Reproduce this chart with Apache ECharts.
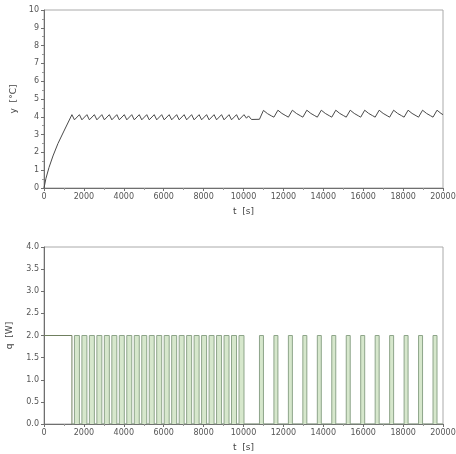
<!DOCTYPE html>
<html>
<head>
<meta charset="utf-8">
<script src="https://cdn.jsdelivr.net/npm/echarts@6/dist/echarts.min.js"></script>
<style>
  html, body { margin: 0; padding: 0; background: #fff; }
  #main { width: 456px; height: 454px; }
</style>
</head>
<body>
<div id="main"></div>
<script>
// temperature y [°C] as [t, y]
var rampTemp = [[0, 0], [100, 0.55], [250, 1.15], [450, 1.8], [700, 2.5], [1000, 3.2], [1400, 4.12]]

var regime1Temp = [
  [1525, 3.83], [1775, 4.12], [1900, 3.83], [2150, 4.12], [2275, 3.83], [2525, 4.12],
  [2650, 3.83], [2900, 4.12], [3025, 3.83], [3275, 4.12], [3400, 3.83], [3650, 4.12],
  [3775, 3.83], [4025, 4.12], [4150, 3.83], [4400, 4.12], [4525, 3.83], [4775, 4.12],
  [4900, 3.83], [5150, 4.12], [5275, 3.83], [5525, 4.12], [5650, 3.83], [5900, 4.12],
  [6025, 3.83], [6275, 4.12], [6400, 3.83], [6650, 4.12], [6775, 3.83], [7025, 4.12],
  [7150, 3.83], [7400, 4.12], [7525, 3.83], [7775, 4.12], [7900, 3.83], [8150, 4.12],
  [8275, 3.83], [8525, 4.12], [8650, 3.83], [8900, 4.12], [9025, 3.83], [9275, 4.12],
  [9400, 3.83], [9650, 4.12], [9775, 3.83], [10025, 4.12]
]

var regime2Temp = [
  [10150, 3.92], [10250, 4.05], [10400, 3.85], [10800, 3.86],
  [11000, 4.36], [11200, 4.18], [11400, 4.05], [11525, 3.98],
  [11725, 4.37], [11925, 4.19], [12125, 4.06], [12250, 3.98],
  [12450, 4.37], [12650, 4.19], [12850, 4.06], [12975, 3.98],
  [13175, 4.37], [13375, 4.19], [13575, 4.06], [13700, 3.98],
  [13900, 4.37], [14100, 4.19], [14300, 4.06], [14425, 3.98],
  [14625, 4.37], [14825, 4.19], [15025, 4.06], [15150, 3.98],
  [15350, 4.37], [15550, 4.19], [15750, 4.06], [15875, 3.98],
  [16075, 4.37], [16275, 4.19], [16475, 4.06], [16600, 3.98],
  [16800, 4.37], [17000, 4.19], [17200, 4.06], [17325, 3.98],
  [17525, 4.37], [17725, 4.19], [17925, 4.06], [18050, 3.98],
  [18250, 4.37], [18450, 4.19], [18650, 4.06], [18775, 3.98],
  [18975, 4.37], [19175, 4.19], [19375, 4.06], [19500, 3.98],
  [19700, 4.37], [19900, 4.19], [20000, 4.12]
]

// heater power [W]: full power until the set point is reached
var warmupHeat = [[0, 2], [1400, 2], [1400, 0]]

// heater power switching points [t, value held until next point]
var regime1Heat = [
  [1400, 0], [1525, 2], [1775, 0], [1900, 2], [2150, 0], [2275, 2], [2525, 0],
  [2650, 2], [2900, 0], [3025, 2], [3275, 0], [3400, 2], [3650, 0], [3775, 2], [4025, 0],
  [4150, 2], [4400, 0], [4525, 2], [4775, 0], [4900, 2], [5150, 0], [5275, 2], [5525, 0],
  [5650, 2], [5900, 0], [6025, 2], [6275, 0], [6400, 2], [6650, 0], [6775, 2], [7025, 0],
  [7150, 2], [7400, 0], [7525, 2], [7775, 0], [7900, 2], [8150, 0], [8275, 2], [8525, 0],
  [8650, 2], [8900, 0], [9025, 2], [9275, 0], [9400, 2], [9650, 0], [9775, 2], [10025, 0]
]

var regime2Heat = [
  [10800, 2], [11000, 0], [11525, 2], [11725, 0], [12250, 2], [12450, 0],
  [12975, 2], [13175, 0], [13700, 2], [13900, 0], [14425, 2], [14625, 0],
  [15150, 2], [15350, 0], [15875, 2], [16075, 0], [16600, 2], [16800, 0],
  [17325, 2], [17525, 0], [18050, 2], [18250, 0], [18775, 2], [18975, 0],
  [19500, 2], [19700, 0], [20000, 0]
]

var tempData = rampTemp.concat(regime1Temp, regime2Temp)
var heatData = regime1Heat.concat(regime2Heat)

var axisGray = '#6f6f6f'
var labelStyle = { fontSize: 8, color: '#555', fontFamily: 'DejaVu Sans' }
var nameStyle = { fontSize: 9, color: '#444', fontFamily: 'DejaVu Sans' }

function xAxisCfg (gridIndex) {
  return {
    type: 'value',
    gridIndex: gridIndex,
    min: 0,
    max: 20000,
    interval: 2000,
    name: 't  [s]',
    nameLocation: 'middle',
    nameGap: 19,
    nameTextStyle: nameStyle,
    axisLine: { show: true, lineStyle: { color: axisGray, width: 1 } },
    axisTick: { show: true, length: 3, lineStyle: { color: axisGray } },
    minorTick: { show: true, splitNumber: 2, length: 2, lineStyle: { color: '#999' } },
    axisLabel: Object.assign({
      margin: 5,
      formatter: function (v) { return String(v) }
    }, labelStyle),
    splitLine: { show: false }
  }
}

var chart = echarts.init(document.getElementById('main'))
chart.setOption({
  animation: false,
  grid: [
    { left: 44, right: 13, top: 10, height: 178, show: true, borderColor: '#aaa', borderWidth: 1, outerBoundsMode: 'none' },
    { left: 44, right: 13, top: 247, height: 177, show: true, borderColor: '#aaa', borderWidth: 1, outerBoundsMode: 'none' }
  ],
  xAxis: [xAxisCfg(0), xAxisCfg(1)],
  yAxis: [
    {
      type: 'value',
      gridIndex: 0,
      min: 0,
      max: 10,
      interval: 1,
      name: 'y  [°C]',
      nameLocation: 'middle',
      nameRotate: 90,
      nameGap: 26,
      nameTextStyle: nameStyle,
      axisLine: { show: true, lineStyle: { color: axisGray } },
      axisTick: { show: true, length: 3, lineStyle: { color: axisGray } },
      minorTick: { show: true, splitNumber: 2, length: 2, lineStyle: { color: '#999' } },
      axisLabel: Object.assign({ margin: 5 }, labelStyle),
      splitLine: { show: false }
    },
    {
      type: 'value',
      gridIndex: 1,
      min: 0,
      max: 4,
      interval: 0.5,
      name: 'q  [W]',
      nameLocation: 'middle',
      nameRotate: 90,
      nameGap: 30,
      nameTextStyle: nameStyle,
      axisLine: { show: true, lineStyle: { color: axisGray } },
      axisTick: { show: true, length: 3, lineStyle: { color: axisGray } },
      axisLabel: Object.assign({
        margin: 5,
        formatter: function (v) { return v.toFixed(1) }
      }, labelStyle),
      splitLine: { show: false }
    }
  ],
  series: [
    {
      type: 'line',
      xAxisIndex: 0,
      yAxisIndex: 0,
      data: tempData,
      showSymbol: false,
      lineStyle: { color: '#4a4a4a', width: 1 }
    },
    {
      type: 'line',
      xAxisIndex: 1,
      yAxisIndex: 1,
      data: warmupHeat,
      showSymbol: false,
      lineStyle: { color: '#6f7f5f', width: 1 }
    },
    {
      type: 'line',
      xAxisIndex: 1,
      yAxisIndex: 1,
      data: heatData,
      step: 'end',
      showSymbol: false,
      lineStyle: { color: '#8ea58a', width: 1 },
      areaStyle: { color: '#d6e7cc', opacity: 1 }
    }
  ]
})
</script>
</body>
</html>
